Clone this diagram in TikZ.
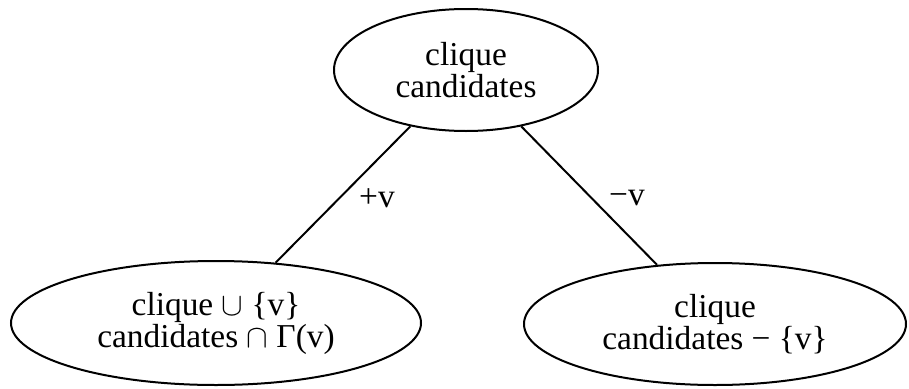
\documentclass[tikz,border=0pt]{standalone}
\usepackage{fontspec}
\usepackage{graphicx}
\setmainfont{Liberation Serif}
\usetikzlibrary{shapes.geometric}
\newcommand{\mycup}{\raisebox{0pt}{\scalebox{1.3}{$\cup$}}}
\newcommand{\mycap}{\raisebox{0pt}{\scalebox{1.3}{$\cap$}}}
\begin{document}
\begin{tikzpicture}[x=1pt,y=-1pt,
  oval/.style={draw,ellipse,line width=2pt,inner sep=0pt,align=center,
    font=\fontsize{33.4}{32}\selectfont},
  edge/.style={draw,line width=2pt},
  lab/.style={font=\fontsize{33.4}{32}\selectfont,inner sep=0pt}]
\useasboundingbox (0,0) rectangle (909,388);
\node[oval,minimum width=264pt,minimum height=122pt] (top) at (466,70) {clique\\candidates};
\node[oval,minimum width=410pt,minimum height=124pt] (bl) at (216,323) {clique \mycup{} \{v\}\\candidates \mycap{} Γ(v)};
\node[oval,minimum width=382pt,minimum height=122pt] (br) at (715,324) {clique\\candidates − \{v\}};
\draw[edge] (top) -- (bl);
\draw[edge] (top) -- (br);
\node[lab] (lp) at (377,198) {+v};
\node[lab] (lm) at (627,198) {−v};
\end{tikzpicture}
\end{document}
